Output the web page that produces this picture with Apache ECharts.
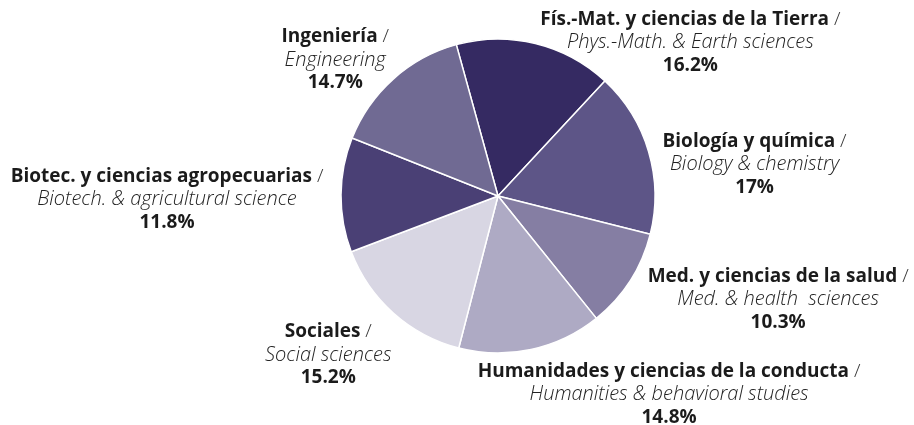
<!DOCTYPE html>
<html>
<head>
<meta charset="utf-8">
<script src="https://cdn.jsdelivr.net/npm/echarts@6/dist/echarts.min.js"></script>
<style>
  html, body { margin: 0; padding: 0; background: #fff; }
  #chart { width: 914px; height: 425px; }
</style>
</head>
<body>
<div id="chart"></div>
<script>
// categories (clockwise from the top)
const namesEs = [
  'Fís.-Mat. y ciencias de la Tierra',
  'Biología y química',
  'Med. y ciencias de la salud',
  'Humanidades y ciencias de la conducta',
  'Sociales',
  'Biotec. y ciencias agropecuarias',
  'Ingeniería'
];
const namesEn = [
  'Phys.-Math. & Earth sciences',
  'Biology & chemistry',
  'Med. & health  sciences',
  'Humanities & behavioral studies',
  'Social sciences',
  'Biotech. & agricultural science',
  'Engineering'
];
const shares = [16.2, 17, 10.3, 14.8, 15.2, 11.8, 14.7];

const sliceColors = ['#352a62', '#5d5587', '#857ea3', '#aeaac4', '#d8d6e3', '#4a4075', '#706a93'];
// label offsets from the rim point of each slice
const labelShift = [
  [155, -1], [106, 13], [148, 19], [138, 45], [-65, 42], [-174, 5], [-58, -19]
];

const chart = echarts.init(document.getElementById('chart'));

const pieData = shares.map((v, i) => ({
  value: v,
  name: namesEs[i],
  itemStyle: { color: sliceColors[i] }
}));

chart.setOption({
  animation: false,
  textStyle: { fontFamily: 'Open Sans' },
  series: [{
    type: 'pie',
    center: [498, 196],
    radius: 157,
    startAngle: 105.4,
    clockwise: true,
    avoidLabelOverlap: false,
    data: pieData,
    itemStyle: { borderColor: '#fff', borderWidth: 1.5 },
    label: {
      position: 'outside',
      distanceToLabelLine: 0,
      overflow: 'none',
      formatter: p => '{b|' + namesEs[p.dataIndex] + '}{s| /}\n{i|' + namesEn[p.dataIndex] + '}\n{p|' + p.value + '%}',
      rich: {
        b: { fontFamily: 'Open Sans', fontWeight: 'bold', fontSize: 19, color: '#1b1b1b', lineHeight: 23, align: 'center' },
        s: { fontFamily: 'Open Sans', fontWeight: 300, fontSize: 19, color: '#333', lineHeight: 23, align: 'center' },
        i: { fontFamily: 'Open Sans', fontStyle: 'italic', fontWeight: 300, fontSize: 20, color: '#222', lineHeight: 23, align: 'center' },
        p: { fontFamily: 'Open Sans', fontWeight: 'bold', fontSize: 19, color: '#1b1b1b', lineHeight: 23, align: 'center' }
      }
    },
    labelLine: { show: false, length: 0, length2: 0 },
    labelLayout: p => ({
      align: 'center',
      verticalAlign: 'middle',
      dx: labelShift[p.dataIndex][0],
      dy: labelShift[p.dataIndex][1]
    })
  }]
});
</script>
</body>
</html>
